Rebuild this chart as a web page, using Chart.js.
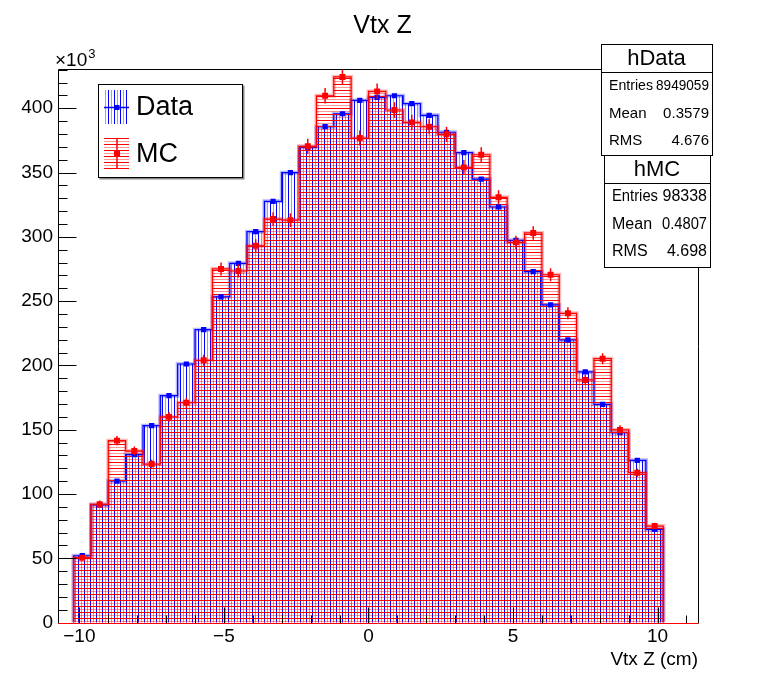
<!DOCTYPE html>
<html>
<head>
<meta charset="utf-8">
<title>Vtx Z</title>
<script src="https://cdn.jsdelivr.net/npm/chart.js@4.4.1/dist/chart.umd.min.js"></script>
<style>
  html, body { margin: 0; padding: 0; background: #fff; }
  #wrap { width: 765px; height: 675px; }
</style>
</head>
<body>
<div id="wrap"><canvas id="vtxChart" width="765" height="675"></canvas></div>
<script>
// --- 1. Data (values in units of 10^3) ---
const binCenters = [-9.9, -9.3, -8.7, -8.1, -7.5, -6.9, -6.3, -5.7, -5.1, -4.5, -3.9, -3.3,
                    -2.7, -2.1, -1.5, -0.9, -0.3, 0.3, 0.9, 1.5, 2.1, 2.7, 3.3, 3.9,
                    4.5, 5.1, 5.7, 6.3, 6.9, 7.5, 8.1, 8.7, 9.3, 9.9];
const binHalfWidth = 0.3;

const dataValues = [52, 91.5, 110.1, 130.6, 153.1, 176.5, 201.1, 227.8, 253.3, 279.4, 304, 327.6,
                    349.9, 369.6, 385.6, 395.7, 406.1, 408.5, 409.7, 403.5, 394.5, 381.3, 365.4, 344.9,
                    323.2, 297.3, 272.9, 247, 219.8, 194.9, 169.7, 147.7, 126.2, 72.5];

const mcValues = [50.5, 92, 141.5, 133.4, 123.3, 160, 171, 204, 275, 273.4, 293, 313.8,
                  313, 370.4, 409.7, 424.3, 376.8, 413.1, 398.6, 389, 385.6, 379.7, 354, 363.8,
                  330.7, 295.7, 303, 270.5, 240.5, 188.7, 205.2, 149.8, 116.6, 75.1];

const mcErrors = [2.1, 2.9, 3.6, 3.5, 3.3, 3.8, 3.9, 4.3, 5.0, 5.0, 5.2, 5.3,
                  5.3, 5.8, 6.1, 6.2, 5.9, 6.1, 6.0, 6.0, 5.9, 5.9, 5.7, 5.8,
                  5.5, 5.2, 5.3, 5.0, 4.7, 4.1, 4.3, 3.7, 3.3, 2.6];

const xTickValues = [-10, -5, 0, 5, 10];
const yTickValues = [0, 50, 100, 150, 200, 250, 300, 350, 400];
const legendLabels = ['Data', 'MC'];
const statsData = [['Entries', '8949059'], ['Mean', '0.3579'], ['RMS', '4.676']];
const statsMC = [['Entries', '98338'], ['Mean', '0.4807'], ['RMS', '4.698']];

const FONT = "'Liberation Sans', Arial, Helvetica, sans-serif";
const BLUE = 'rgb(0,0,255)';
const RED = 'rgb(255,0,0)';

// --- 2. Helpers ---
const canvas = document.getElementById('vtxChart');
const ctx0 = canvas.getContext('2d');

// ROOT-like hatch: one dark line and one pale line per 6 px tile
function makeHatch(dark, pale, vertical) {
    const tile = document.createElement('canvas');
    tile.width = vertical ? 6 : 1;
    tile.height = vertical ? 1 : 6;
    const t = tile.getContext('2d');
    t.fillStyle = dark;
    t.fillRect(0, 0, 1, 1);
    t.fillStyle = pale;
    if (vertical) t.fillRect(3, 0, 1, 1); else t.fillRect(0, 3, 1, 1);
    return ctx0.createPattern(tile, 'repeat');
}
const blueHatch = makeHatch('rgb(0,0,255)', 'rgba(0,0,255,0.4)', true);
const redHatch = makeHatch('rgb(255,0,0)', 'rgba(255,0,0,0.4)', false);

function barPoints(vals) {
    return vals.map((v, i) => ({ x: binCenters[i], y: v }));
}

function stepPoints(vals) {
    const pts = [{ x: binCenters[0] - binHalfWidth, y: 0 }];
    vals.forEach((v, i) => {
        pts.push({ x: binCenters[i] - binHalfWidth, y: v });
        pts.push({ x: binCenters[i] + binHalfWidth, y: v });
    });
    pts.push({ x: binCenters[binCenters.length - 1] + binHalfWidth, y: 0 });
    return pts;
}

function errorPoints(vals, errs) {
    const pts = [];
    vals.forEach((v, i) => {
        pts.push({ x: binCenters[i], y: v - errs[i] });
        pts.push({ x: binCenters[i], y: v + errs[i] });
        pts.push({ x: binCenters[i], y: null });
    });
    return pts;
}

function minusLabel(v) {
    return v < 0 ? '\u2212' + Math.abs(v) : String(v);
}

// --- 3. ROOT-style frame, ticks, legend and stat boxes ---
function drawStatBox(ctx, b, title, rows) {
    ctx.save();
    ctx.fillStyle = '#fff';
    ctx.fillRect(b.x, b.y, b.w, b.h);
    ctx.strokeStyle = '#000';
    ctx.lineWidth = 1;
    ctx.strokeRect(b.x + 0.5, b.y + 0.5, b.w, b.h);
    ctx.beginPath();
    ctx.moveTo(b.x, b.sep + 0.5);
    ctx.lineTo(b.x + b.w, b.sep + 0.5);
    ctx.stroke();
    ctx.fillStyle = '#000';
    ctx.textBaseline = 'middle';
    ctx.textAlign = 'center';
    ctx.font = b.titleSize + 'px ' + FONT;
    ctx.fillText(title, b.x + b.w / 2, b.titleY);
    ctx.font = b.rowSize + 'px ' + FONT;
    rows.forEach((r, i) => {
        const y = b.rowY[i];
        ctx.textAlign = 'left';
        ctx.fillText(r[0], b.x + 8, y, b.labelMax);
        ctx.textAlign = 'right';
        ctx.fillText(r[1], b.x + b.w - 3, y, b.valueMax);
    });
    ctx.restore();
}

const rootStyle = {
    id: 'rootStyle',
    afterDatasetsDraw(chart) {
        const { ctx, chartArea: a, scales } = chart;
        const xs = scales.x, ys = scales.y;
        const L = Math.round(a.left) + 0.5, R = Math.round(a.right) + 0.5;
        const T = Math.round(a.top) + 0.5, B = Math.round(a.bottom) + 0.5;
        ctx.save();
        ctx.lineWidth = 1;
        ctx.strokeStyle = '#000';
        // y ticks (inside)
        for (let v = 0; v <= ys.max; v += 10) {
            const y = Math.round(ys.getPixelForValue(v)) + 0.5;
            const len = v % 50 === 0 ? 18 : 9;
            ctx.beginPath(); ctx.moveTo(L, y); ctx.lineTo(L + len, y); ctx.stroke();
        }
        // x ticks (inside)
        for (let v = -10; v <= xs.max; v += 1) {
            const x = Math.round(xs.getPixelForValue(v)) + 0.5;
            const len = v % 5 === 0 ? 16 : 8;
            ctx.beginPath(); ctx.moveTo(x, B); ctx.lineTo(x, B - len); ctx.stroke();
        }
        // frame
        ctx.beginPath();
        ctx.moveTo(L, B); ctx.lineTo(L, T); ctx.lineTo(R, T); ctx.lineTo(R, B);
        ctx.stroke();
        ctx.strokeStyle = RED;
        ctx.beginPath(); ctx.moveTo(L, B); ctx.lineTo(R, B); ctx.stroke();
        ctx.restore();
    },
    afterDraw(chart) {
        const { ctx, chartArea: a } = chart;
        ctx.save();
        // x10^3 multiplier
        ctx.fillStyle = '#000';
        ctx.textBaseline = 'alphabetic';
        ctx.textAlign = 'left';
        ctx.font = '19px ' + FONT;
        ctx.fillText('\u00d710', a.left - 3, a.top - 3);
        const w = ctx.measureText('\u00d710').width;
        ctx.font = '13px ' + FONT;
        ctx.fillText('3', a.left - 3 + w + 1, a.top - 11);

        // legend
        const lg = { x: 98, y: 84, w: 145, h: 94 };
        ctx.fillStyle = '#888';
        ctx.fillRect(lg.x + 1.5, lg.y + 1.5, lg.w, lg.h);
        ctx.fillStyle = '#fff';
        ctx.fillRect(lg.x, lg.y, lg.w, lg.h);
        ctx.strokeStyle = '#000';
        ctx.lineWidth = 1;
        ctx.strokeRect(lg.x + 0.5, lg.y + 0.5, lg.w - 1, lg.h - 1);

        // Data entry
        ctx.fillStyle = blueHatch;
        ctx.fillRect(104, 90, 25, 34);
        ctx.strokeStyle = BLUE;
        ctx.lineWidth = 1.5;
        ctx.beginPath(); ctx.moveTo(104, 107.5); ctx.lineTo(129, 107.5); ctx.stroke();
        ctx.fillStyle = BLUE;
        ctx.fillRect(114.5, 105, 5, 5);
        // MC entry
        ctx.fillStyle = redHatch;
        ctx.fillRect(104, 138, 25, 31);
        ctx.strokeStyle = RED;
        ctx.beginPath(); ctx.moveTo(117, 138); ctx.lineTo(117, 169); ctx.stroke();
        ctx.fillStyle = RED;
        ctx.fillRect(114, 151, 6, 6);

        ctx.fillStyle = '#000';
        ctx.textBaseline = 'middle';
        ctx.font = '27px ' + FONT;
        ctx.fillText(legendLabels[0], 136, 108);
        ctx.fillText(legendLabels[1], 136, 155);
        ctx.restore();

        // stat boxes
        drawStatBox(ctx, { x: 601, y: 44, w: 111, h: 111, sep: 72, titleY: 59, titleSize: 22,
                           rowSize: 15, labelMax: 44, valueMax: 53, rowY: [86, 114, 141] },
                    'hData', statsData);
        drawStatBox(ctx, { x: 604, y: 155, w: 106, h: 112, sep: 183, titleY: 170, titleSize: 22,
                           rowSize: 16, labelMax: 46, valueMax: 45, rowY: [197, 225, 252] },
                    'hMC', statsMC);
    }
};

// --- 4. Chart ---
Chart.defaults.font.family = FONT;
Chart.defaults.color = '#000';

new Chart(canvas, {
    type: 'bar',
    data: {
        datasets: [
            { type: 'line', data: errorPoints(mcValues, mcErrors), borderColor: RED, borderWidth: 1.5,
              pointRadius: 0, spanGaps: false, order: 0 },
            { type: 'line', data: barPoints(mcValues), showLine: false, pointStyle: 'rect',
              pointRadius: 4.2, backgroundColor: RED, borderWidth: 0, order: 1 },
            { type: 'line', data: barPoints(dataValues), showLine: false, pointStyle: 'rect',
              pointRadius: 3.7, backgroundColor: BLUE, borderWidth: 0, order: 2 },
            { type: 'line', data: stepPoints(mcValues), borderColor: RED, borderWidth: 1.2,
              pointRadius: 0, tension: 0, order: 3 },
            { type: 'line', data: stepPoints(mcValues), borderColor: 'rgba(255,0,0,0.28)', borderWidth: 4,
              pointRadius: 0, tension: 0, order: 4 },
            { label: 'MC', data: barPoints(mcValues), backgroundColor: redHatch, borderWidth: 0,
              grouped: false, categoryPercentage: 1, barPercentage: 1, order: 5 },
            { type: 'line', data: stepPoints(dataValues), borderColor: BLUE, borderWidth: 1.2,
              pointRadius: 0, tension: 0, order: 6 },
            { type: 'line', data: stepPoints(dataValues), borderColor: 'rgba(0,0,255,0.28)', borderWidth: 4,
              pointRadius: 0, tension: 0, order: 7 },
            { label: 'Data', data: barPoints(dataValues), backgroundColor: blueHatch, borderWidth: 0,
              grouped: false, categoryPercentage: 1, barPercentage: 1, order: 8 }
        ]
    },
    options: {
        responsive: false,
        animation: false,
        devicePixelRatio: 1,
        events: [],
        layout: { padding: 0 },
        plugins: {
            legend: { display: false },
            tooltip: { enabled: false },
            title: {
                display: true, text: 'Vtx Z', color: '#000',
                font: { size: 25, weight: 'normal' },
                padding: { top: 11, bottom: 28 }
            }
        },
        scales: {
            x: {
                type: 'linear', min: -10.74, max: 11.4, offset: false,
                grid: { display: false, drawTicks: false },
                border: { display: false },
                afterBuildTicks: (s) => { s.ticks = xTickValues.map(v => ({ value: v })); },
                afterFit: (s) => { s.height = 52.4; },
                ticks: { font: { size: 19 }, color: '#000', padding: 3, autoSkip: false,
                         maxRotation: 0, callback: minusLabel },
                title: { display: true, text: 'Vtx Z (cm)', align: 'end', color: '#000',
                         font: { size: 19 }, padding: { top: 4, bottom: 4 } }
            },
            y: {
                min: 0, max: 430.5,
                grid: { display: false, drawTicks: false },
                border: { display: false },
                afterBuildTicks: (s) => { s.ticks = yTickValues.map(v => ({ value: v })); },
                afterFit: (s) => { s.width = 58; },
                ticks: { font: { size: 19 }, color: '#000', padding: 5 }
            },
            // empty right-hand axis: reserves the right margin so the title stays centred on the canvas
            yRight: {
                position: 'right', min: 0, max: 1,
                grid: { display: false, drawTicks: false },
                border: { display: false },
                ticks: { display: false },
                afterFit: (s) => { s.width = 67; }
            }
        }
    },
    plugins: [rootStyle]
});
</script>
</body>
</html>
